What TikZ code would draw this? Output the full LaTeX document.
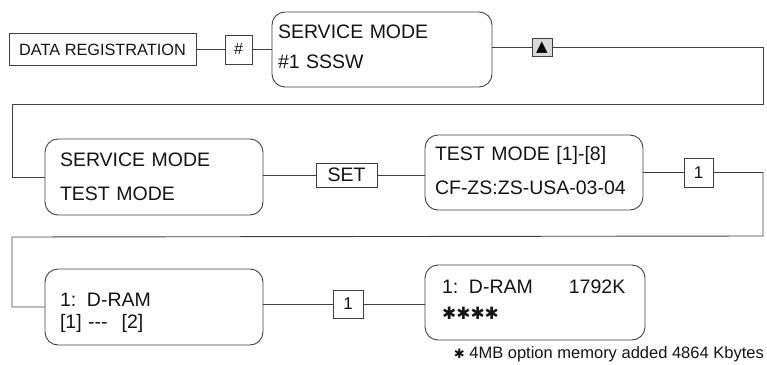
\documentclass[tikz,border=0pt]{standalone}
\usepackage{fontspec}
\setmainfont{Liberation Sans}
\newfontfamily\dejavu{DejaVu Sans}
\begin{document}
\begin{tikzpicture}[x=1pt,y=-1pt,
  line/.style={draw=black!75, line width=0.9pt},
  rbox/.style={draw=black!75, line width=0.9pt, rounded corners=13pt, inner ysep=0pt,
    align=left, text=black!92, text height=20pt},
  sbox/.style={draw=black!75, line width=0.9pt, inner sep=0pt, text=black!92},
  bigtext/.style={font=\fontsize{19.5}{#1}\selectfont},
]
\useasboundingbox (0,0) rectangle (767,364);

% ---- row 1
\node[sbox, minimum width=187pt, minimum height=32pt, font=\fontsize{16.3}{16}\selectfont]
  (dr) at (102.5,49.5) {DATA REGISTRATION};
\node[sbox, minimum width=27pt, minimum height=29pt, font=\fontsize{16}{16}\selectfont]
  (hash) at (238.5,49.5) {\#};
\node[rbox, bigtext=30, minimum width=220pt, minimum height=75pt, inner xsep=6pt,
  text width=208pt, text depth=43pt]
  (b1) at (382,49.5) {SERVICE MODE\\\#1 SSSW};
\node[sbox, fill=black!15, minimum width=20pt, minimum height=18pt,
  font=\dejavu\fontsize{15}{15}\selectfont, text=black]
  (tri) at (542,47.5) {▲};
\coordinate (r1) at (763,104);
\coordinate (l1) at (12,104);

% ---- row 2
\node[rbox, bigtext=34, minimum width=218pt, minimum height=76pt, inner xsep=15pt,
  text width=188pt, text depth=42pt]
  (b2) at (154,177) {SERVICE MODE\\TEST MODE};
\node[sbox, minimum width=61pt, minimum height=24pt, font=\fontsize{19.5}{19}\selectfont]
  (set) at (346.5,175) {SET};
\node[rbox, bigtext=34, minimum width=218pt, minimum height=75pt, inner xsep=10pt,
  text width=198pt, text depth=45pt]
  (b3) at (534,172.5) {TEST MODE [1]-[8]\\CF-ZS:ZS-USA-03-04};
\node[sbox, minimum width=29pt, minimum height=29pt, font=\fontsize{17}{17}\selectfont]
  (one1) at (698.5,172.5) {1};
\coordinate (r2) at (763,236);
\coordinate (l2) at (12,237);

% ---- row 3
\node[rbox, bigtext=22, minimum width=218pt, minimum height=76pt, inner xsep=15pt,
  text width=188pt, text depth=22pt]
  (b4) at (154,307) {1:\hspace{0.55em}D-RAM\\{}[1] -{}-{}-\hspace{14pt}[2]};
\node[sbox, minimum width=30pt, minimum height=28pt, font=\fontsize{17}{17}\selectfont]
  (one2) at (348,304) {1};
\node[rbox, bigtext=26, minimum width=220pt, minimum height=75pt, inner xsep=12pt,
  text width=196pt, text depth=39pt]
  (b5) at (535,302.5) {\hspace{5pt}1:\hspace{0.55em}D-RAM\hspace{36pt}1792K\\\hspace{5pt}{\dejavu\fontsize{17}{17}\selectfont ✱✱✱✱}};
\node[anchor=base east, inner sep=0pt, text=black!92, font=\fontsize{16.5}{16.5}\selectfont]
  (note) at (764,358) {{\dejavu\fontsize{13}{13}\selectfont ✱} 4MB option memory added 4864 Kbytes};

% ---- connectors
\draw[line] (dr) -- (hash);
\draw[line] (hash) -- (b1);
\draw[line] (tri.west -| b1.east) -- (tri.west);
\draw[line] (tri.east) -| (r1) -- (l1) |- (b2.west);
\draw[line] (set.west -| b2.east) -- (set.west);
\draw[line] (set.east) -- (set.east -| b3.west);
\draw[line] (b3) -- (one1);
\draw[line] (one1.east) -| (r2) -- (l2) |- (b4.west);
\draw[line] (one2.west -| b4.east) -- (one2.west);
\draw[line] (one2.east) -- (one2.east -| b5.west);
\end{tikzpicture}
\end{document}
